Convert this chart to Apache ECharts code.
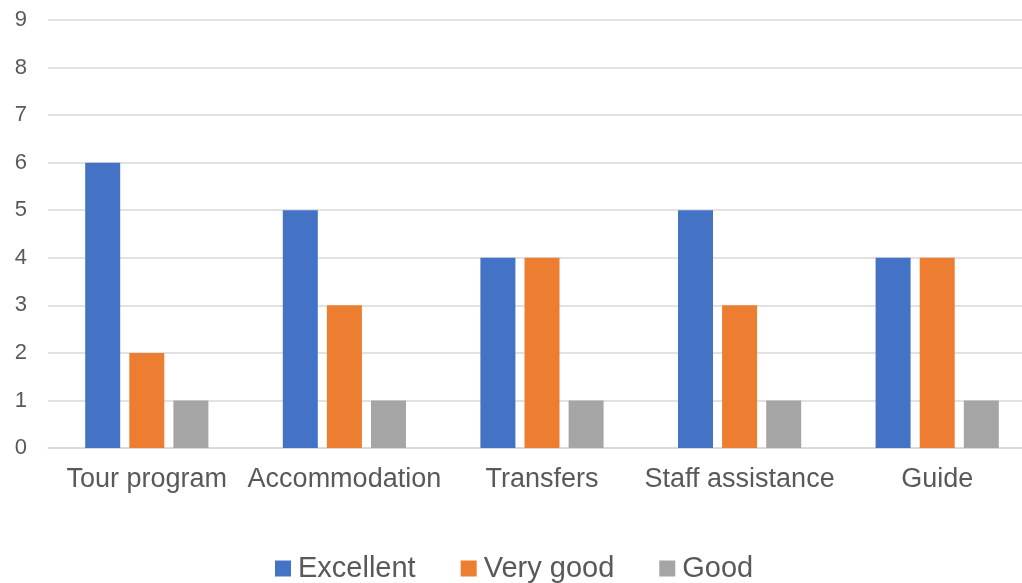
<!DOCTYPE html>
<html><head><meta charset="utf-8">
<script src="https://cdn.jsdelivr.net/npm/echarts@6/dist/echarts.min.js"></script>
<style>html,body{margin:0;padding:0;background:#fff;overflow:hidden}#c{width:1040px;height:583px}</style>
</head><body><div id="c"></div>
<script>
const categories = ["Tour program", "Accommodation", "Transfers", "Staff assistance", "Guide"];
const excellent = [6, 5, 4, 5, 4];
const veryGood = [2, 3, 4, 3, 4];
const good = [1, 1, 1, 1, 1];
const seriesNames = ["Excellent", "Very good", "Good"];
const colors = ["#4472C4", "#ED7D31", "#A5A5A5"];

const chart = echarts.init(document.getElementById('c'), null, {renderer: 'canvas'});
const font = "Liberation Sans, Arial, sans-serif";
chart.setOption({
  animation: false,
  color: colors,
  grid: {left: 48, top: 20, width: 988, height: 428, containLabel: false},
  legend: {
    bottom: 0, left: 275, padding: 0,
    itemWidth: 16, itemHeight: 16, itemGap: 45,
    icon: 'rect',
    textStyle: {fontSize: 29, color: '#595959', fontFamily: font, padding: [0,0,0,2]},
    data: seriesNames
  },
  xAxis: {
    type: 'category', data: categories,
    axisLine: {lineStyle: {color: '#D9D9D9', width: 1.5}},
    axisTick: {show: false},
    axisLabel: {fontSize: 27, color: '#595959', fontFamily: font, margin: 18, interval: 0}
  },
  yAxis: {
    type: 'value', min: 0, max: 9, interval: 1,
    axisLine: {show: false}, axisTick: {show: false},
    splitLine: {lineStyle: {color: '#D9D9D9', width: 1.5}},
    axisLabel: {fontSize: 22, color: '#595959', fontFamily: font, margin: 21}
  },
  series: [
    {name: seriesNames[0], type: 'bar', data: excellent, barWidth: 35, barGap: '26%'},
    {name: seriesNames[1], type: 'bar', data: veryGood, barWidth: 35, barGap: '26%'},
    {name: seriesNames[2], type: 'bar', data: good, barWidth: 35, barGap: '26%'}
  ]
});
</script></body></html>
